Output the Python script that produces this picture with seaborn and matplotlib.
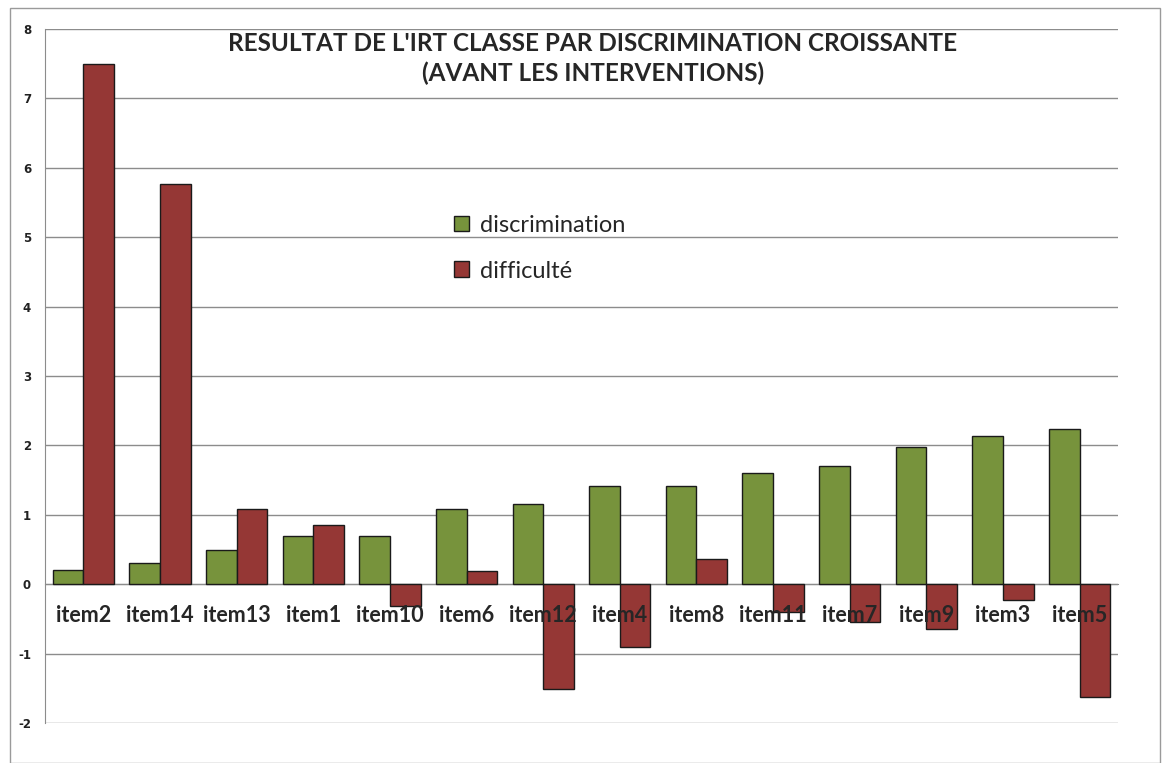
import pandas as pd
import matplotlib.pyplot as plt
import seaborn as sns
from matplotlib.patches import Rectangle

# data
items = ["item2", "item14", "item13", "item1", "item10", "item6", "item12",
         "item4", "item8", "item11", "item7", "item9", "item3", "item5"]
discrimination = [0.21, 0.31, 0.50, 0.69, 0.69, 1.09, 1.15,
                  1.42, 1.42, 1.60, 1.70, 1.97, 2.14, 2.23]
difficulte = [7.49, 5.77, 1.09, 0.86, -0.32, 0.19, -1.51,
              -0.91, 0.36, -0.40, -0.55, -0.65, -0.23, -1.62]
y_ticks = [-2, -1, 0, 1, 2, 3, 4, 5, 6, 7, 8]

df = pd.DataFrame({
    "item": items * 2,
    "valeur": discrimination + difficulte,
    "serie": ["discrimination"] * len(items) + ["difficulté"] * len(items),
})

sns.set_style("white")
plt.rcParams["font.family"] = ["Lato", "DejaVu Sans"]

fig = plt.figure(figsize=(11.69, 7.63), dpi=100)
ax = fig.add_axes([45 / 1169, 40 / 763, (1118 - 45) / 1169, (723 - 29) / 763])

sns.barplot(data=df, x="item", y="valeur", hue="serie", order=items,
            palette={"discrimination": "#77933C", "difficulté": "#953735"},
            saturation=1, width=0.8, edgecolor="#1a1a1a", linewidth=1.0,
            ax=ax, zorder=3)

ax.set_ylim(-2, 8)
ax.set_xlim(-0.5, len(items) - 0.5)
ax.set_yticks(y_ticks)
ax.set_yticklabels([str(t) for t in y_ticks], fontsize=8.5,
                   family="DejaVu Sans", fontweight="bold", color="#222222")
ax.yaxis.grid(True, color="#8c8c8c", linewidth=1.0)
ax.yaxis.set_zorder(1)
ax.tick_params(axis="y", length=4, color="#8c8c8c", direction="out", pad=6)

# category axis crosses at zero, like in the spreadsheet
ax.spines["bottom"].set_position(("data", 0))
ax.spines["bottom"].set_color("#8c8c8c")
ax.spines["left"].set_color("#8c8c8c")
ax.spines["top"].set_visible(False)
ax.spines["right"].set_visible(False)
ax.set_xticks([i + 0.5 for i in range(-1, len(items))], minor=True)
ax.tick_params(axis="x", which="minor", length=5, color="#8c8c8c", direction="out")
ax.tick_params(axis="x", which="major", length=0, pad=15)
ax.xaxis.set_zorder(5)
for lab in ax.get_xticklabels():
    lab.set_fontsize(15.5)
    lab.set_fontweight("bold")
ax.set_xlabel("")
ax.set_ylabel("")

ax.legend(loc="upper left", bbox_to_anchor=(0.361, 0.763), frameon=False,
          fontsize=17, handlelength=0.65, handleheight=0.65,
          labelspacing=1.05, handletextpad=0.45)

fig.text(0.507, 0.958, "RESULTAT DE L'IRT CLASSE PAR DISCRIMINATION CROISSANTE\n(AVANT LES INTERVENTIONS)",
         ha="center", va="top", fontsize=17.5, fontweight="bold", linespacing=1.35)

fig.patches.append(Rectangle((10 / 1169, 0), 1150 / 1169, 755 / 763,
                             transform=fig.transFigure, fill=False,
                             edgecolor="#9a9a9a", linewidth=1.0))

fig.savefig("out.png", dpi=100)
